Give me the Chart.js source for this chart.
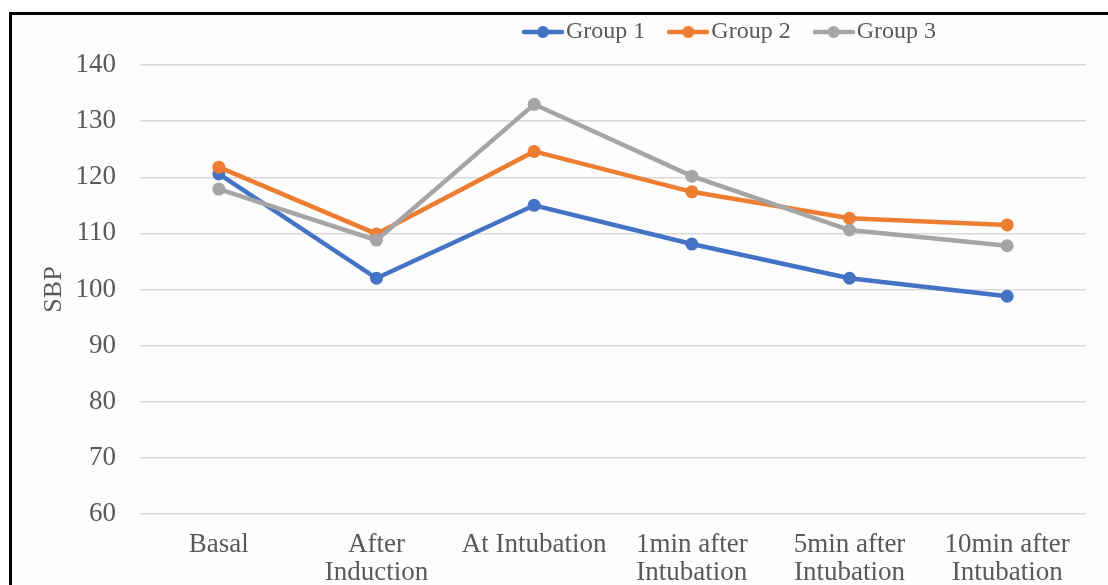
<!DOCTYPE html>
<html>
<head>
<meta charset="utf-8">
<script src="https://cdn.jsdelivr.net/npm/chart.js@4"></script>
<style>
  html, body { margin: 0; padding: 0; background: #fff; }
  #frame {
    position: absolute; left: 9px; top: 12px; width: 1120px; height: 600px;
    border-top: 3px solid #000; border-left: 3px solid #000; background: #fdfdfd;
  }
  #wrap { position: absolute; left: 0; top: 0; width: 1108px; height: 585px; }
</style>
</head>
<body>
<div id="frame"></div>
<div id="wrap"><canvas id="myChart" width="1108" height="585"></canvas></div>
<script>
const categories = ['Basal', ['After', 'Induction'], 'At Intubation', ['1min after', 'Intubation'], ['5min after', 'Intubation'], ['10min after', 'Intubation']];
const group1 = [120.6, 102.0, 115.0, 108.1, 102.0, 98.8];
const group2 = [121.8, 109.9, 124.6, 117.4, 112.7, 111.5];
const group3 = [117.9, 108.8, 133.0, 120.2, 110.6, 107.8];
const seriesNames = ['Group 1', 'Group 2', 'Group 3'];
const seriesColors = ['#4472C4', '#ED7D31', '#A5A5A5'];
const yMin = 60, yMax = 140, yStep = 10;

document.addEventListener('DOMContentLoaded', () => {
  const ctx = document.getElementById('myChart');
  Chart.defaults.font.family = '"Liberation Serif", "Times New Roman", serif';
  Chart.defaults.color = '#595959';

  // legend marker: line with a dot in the middle
  function legendMarker(color) {
    const c = document.createElement('canvas');
    c.width = 42; c.height = 14;
    const g = c.getContext('2d');
    g.strokeStyle = color; g.lineWidth = 4.5; g.lineCap = 'round';
    g.beginPath(); g.moveTo(2, 7); g.lineTo(40, 7); g.stroke();
    g.fillStyle = color;
    g.beginPath(); g.arc(21, 7, 6, 0, Math.PI * 2); g.fill();
    return c;
  }
  const markers = seriesColors.map(legendMarker);

  const legendShift = {
    id: 'legendShift',
    afterLayout(chart) {
      const lg = chart.legend;
      lg.left = 500;
      lg.top = -12;
    }
  };

  const values = [group1, group2, group3];
  new Chart(ctx, {
    type: 'line',
    data: {
      labels: categories,
      datasets: values.map((v, i) => ({
        label: seriesNames[i],
        data: v,
        borderColor: seriesColors[i],
        backgroundColor: seriesColors[i],
        pointBackgroundColor: seriesColors[i],
        pointBorderColor: seriesColors[i],
        borderWidth: 4.5,
        pointRadius: 6.5,
        pointBorderWidth: 0,
        tension: 0,
        order: 3 - i
      }))
    },
    options: {
      responsive: false,
      animation: false,
      layout: { padding: { left: 10, right: 22, top: -1, bottom: 0 } },
      scales: {
        x: {
          offset: true,
          grid: { display: false, drawTicks: false },
          border: { display: false },
          ticks: {
            font: { size: 27, lineHeight: 1.04 },
            color: '#595959',
            padding: 17,
            maxRotation: 0,
            autoSkip: false
          },
          afterFit(scale) { scale.height = 71; }
        },
        y: {
          min: yMin,
          max: yMax,
          grid: { color: '#d9d9d9', lineWidth: 1.5, drawTicks: false },
          border: { display: false },
          ticks: {
            stepSize: yStep,
            font: { size: 27 },
            color: '#595959',
            padding: 24
          },
          title: {
            display: true,
            text: 'SBP',
            font: { size: 26 },
            color: '#595959',
            padding: { top: 29, bottom: 0 }
          },
          afterFit(scale) { scale.width = 130; }
        }
      },
      plugins: {
        tooltip: { enabled: false },
        legend: {
          position: 'top',
          align: 'start',
          labels: {
            usePointStyle: true,
            pointStyleWidth: 22,
            padding: 32,
            font: { size: 24 },
            color: '#595959',
            generateLabels(chart) {
              return chart.data.datasets.map((ds, i) => ({
                text: ds.label,
                pointStyle: markers[i],
                fillStyle: ds.borderColor,
                strokeStyle: ds.borderColor,
                fontColor: '#595959',
                lineWidth: 0,
                hidden: false,
                datasetIndex: i
              }));
            }
          }
        }
      }
    },
    plugins: [legendShift]
  });
});
</script>
</body>
</html>
